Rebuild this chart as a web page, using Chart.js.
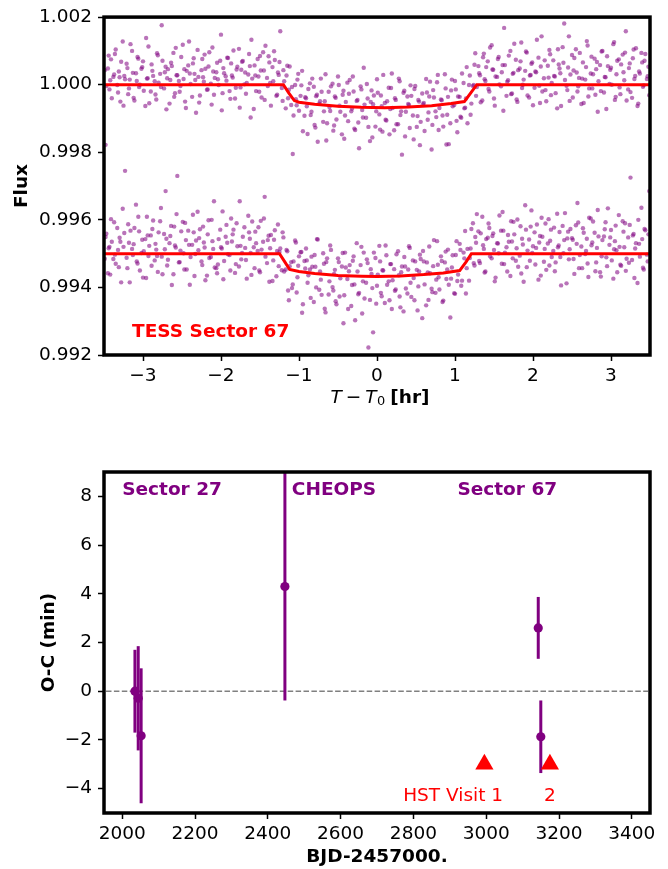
<!DOCTYPE html>
<html>
<head>
<meta charset="utf-8">
<script src="https://cdn.jsdelivr.net/npm/chart.js@4.4.1/dist/chart.umd.min.js"></script>
<style>
  html, body { margin: 0; padding: 0; background: #fff; }
  #wrap { position: relative; width: 668px; height: 869px; }
  canvas { position: absolute; left: 0; }
  #lcChart { top: 0; }
  #ocChart { top: 430px; }
</style>
</head>
<body>
<div id="wrap">
  <canvas id="lcChart" width="668" height="430"></canvas>
  <canvas id="ocChart" width="668" height="439"></canvas>
</div>
<script>
/* ── light curve data (hours from mid-transit) ───────────────── */
const phaseHours = [
  -3.49,-3.47,-3.44,-3.42,-3.40, -3.37,-3.35,-3.32,-3.30,-3.28, -3.25,-3.23,-3.20,-3.18,-3.16,
  -3.13,-3.11,-3.08,-3.06,-3.04, -3.01,-2.99,-2.96,-2.94,-2.92, -2.89,-2.87,-2.84,-2.82,-2.80,
  -2.77,-2.75,-2.72,-2.70,-2.68, -2.65,-2.63,-2.60,-2.58,-2.56, -2.53,-2.51,-2.48,-2.46,-2.44,
  -2.41,-2.39,-2.36,-2.34,-2.32, -2.29,-2.27,-2.24,-2.22,-2.20, -2.17,-2.15,-2.12,-2.10,-2.08,
  -2.05,-2.03,-2.00,-1.98,-1.96, -1.93,-1.91,-1.88,-1.86,-1.84, -1.81,-1.79,-1.76,-1.74,-1.72,
  -1.69,-1.67,-1.64,-1.62,-1.60, -1.57,-1.55,-1.52,-1.50,-1.48, -1.45,-1.43,-1.40,-1.38,-1.36,
  -1.33,-1.31,-1.28,-1.26,-1.24, -1.21,-1.19,-1.16,-1.14,-1.12, -1.09,-1.07,-1.04,-1.02,-1.00,
  -0.97,-0.95,-0.92,-0.90,-0.88, -0.85,-0.83,-0.80,-0.78,-0.76, -0.73,-0.71,-0.68,-0.66,-0.64,
  -0.61,-0.59,-0.56,-0.54,-0.52, -0.49,-0.47,-0.44,-0.42,-0.40, -0.37,-0.35,-0.32,-0.30,-0.28,
  -0.25,-0.23,-0.20,-0.18,-0.16, -0.13,-0.11,-0.08,-0.06,-0.04, -0.01,0.01,0.04,0.06,0.08,
  0.11,0.13,0.16,0.18,0.20, 0.23,0.25,0.28,0.30,0.32, 0.35,0.37,0.40,0.42,0.44,
  0.47,0.49,0.52,0.54,0.56, 0.59,0.61,0.64,0.66,0.68, 0.71,0.73,0.76,0.78,0.80,
  0.83,0.85,0.88,0.90,0.92, 0.95,0.97,1.00,1.02,1.04, 1.07,1.09,1.12,1.14,1.16,
  1.19,1.21,1.24,1.26,1.28, 1.31,1.33,1.36,1.38,1.40, 1.43,1.45,1.48,1.50,1.52,
  1.55,1.57,1.60,1.62,1.64, 1.67,1.69,1.72,1.74,1.76, 1.79,1.81,1.84,1.86,1.88,
  1.91,1.93,1.96,1.98,2.00, 2.03,2.05,2.08,2.10,2.12, 2.15,2.17,2.20,2.22,2.24,
  2.27,2.29,2.32,2.34,2.36, 2.39,2.41,2.44,2.46,2.48, 2.51,2.53,2.56,2.58,2.60,
  2.63,2.65,2.68,2.70,2.72, 2.75,2.77,2.80,2.82,2.84, 2.87,2.89,2.92,2.94,2.96,
  2.99,3.01,3.04,3.06,3.08, 3.11,3.13,3.16,3.18,3.20, 3.23,3.25,3.28,3.30,3.32,
  3.35,3.37,3.40,3.42,3.44, 3.47,3.49
];

// upper transit (offset +0.005)
const fluxUpper = [
  1.00043,0.99996,1.00086,1.00013,0.99960, 1.00030,1.00104,0.99977,1.00022,1.00068, 0.99938,1.00016,1.00049,0.99989,1.00120,
  1.00035,0.99953,1.00011,1.00077,1.00000, 1.00052,0.99982,1.00138,1.00019,0.99945, 1.00060,1.00026,0.99971,1.00093,1.00006,
  0.99993,1.00071,1.00037,0.99927,1.00046, 1.00014,1.00055,0.99964,1.00109,1.00028, 0.99979,1.00082,1.00017,0.99950,1.00041,
  1.00128,1.00002,1.00063,1.00032,0.99917, 1.00023,0.99968,1.00076,1.00009,1.00047, 0.99986,1.00096,0.99941,1.00039,1.00020,
  1.00065,0.99999,1.00148,0.99975,1.00034, 1.00012,1.00079,0.99958,1.00027,1.00101, 0.99991,1.00053,0.99932,1.00044,1.00070,
  1.00036,1.00005,1.00091,0.99903,1.00018, 1.00057,0.99981,1.00024,1.00085,0.99962, 1.00042,1.00115,0.99996,1.00066,0.99938,
  1.00010,1.00073,0.99970,1.00029,1.00158, 0.99952,1.00010,1.00027,0.99960,1.00054, 0.99993,0.99909,0.99957,1.00015,0.99923,
  0.99998,0.99862,0.99963,0.99936,0.99987, 0.99910,1.00018,0.99881,0.99966,0.99831, 0.99951,0.99979,0.99921,1.00031,0.99886,
  0.99934,0.99995,0.99864,0.99965,0.99897, 0.99999,0.99920,0.99970,0.99840,0.99949, 0.99892,1.00014,0.99929,0.99980,0.99866,
  0.99955,0.99812,0.99986,0.99903,0.99941, 1.00002,0.99875,0.99949,0.99844,0.99968, 0.99921,0.99976,0.99867,0.99936,1.00029,
  0.99896,0.99951,0.99853,0.99990,0.99931, 0.99960,0.99883,1.00018,0.99910,0.99793, 0.99982,0.99920,0.99943,0.99872,0.99967,
  0.99838,0.99996,0.99907,0.99950,0.99890, 0.99942,0.99863,0.99977,0.99918,1.00009, 0.99881,0.99962,0.99904,1.00029,0.99931,
  0.99954,0.99876,0.99989,0.99911,0.99824, 0.99983,0.99936,1.00011,0.99893,0.99965, 0.99905,1.00033,0.99930,0.99959,0.99886,
  1.00027,0.99944,0.99999,1.00093,0.99993, 1.00034,0.99948,1.00081,1.00016,1.00052, 0.99987,1.00110,1.00045,0.99959,1.00024,
  1.00076,1.00001,1.00037,0.99923,1.00058, 1.00009,1.00086,0.99972,1.00032,1.00121, 0.99956,1.00043,1.00069,0.99990,1.00015,
  1.00098,0.99968,1.00027,1.00062,0.99939, 1.00039,1.00133,0.99997,1.00054,0.99980, 1.00072,0.99951,1.00021,1.00090,1.00005,
  1.00026,0.99975,1.00105,1.00048,0.99937, 1.00065,1.00014,0.99984,1.00143,1.00030, 0.99962,1.00079,1.00036,0.99995,1.00094,
  1.00018,0.99946,1.00052,1.00116,0.99989, 1.00083,1.00031,0.99970,1.00067,1.00010, 0.99981,1.00100,1.00023,0.99928,1.00055,
  1.00044,1.00000,1.00126,0.99964,1.00071, 0.99992,1.00060,1.00037,1.00095,0.99953, 1.00049,0.99978,1.00078,1.00017,1.00108,
  0.99944,1.00033,1.00066,0.99998,1.00091, 1.00025,0.99969
];

// lower transit
const fluxLower = [
  0.99485,0.99559,0.99516,0.99438,0.99535, 0.99593,0.99470,0.99511,0.99547,0.99415, 0.99520,0.99745,0.99457,0.99532,0.99568,
  0.99496,0.99576,0.99477,0.99609,0.99450, 0.99541,0.99507,0.99428,0.99554,0.99523, 0.99464,0.99598,0.99529,0.99493,0.99563,
  0.99635,0.99439,0.99513,0.99544,0.99482, 0.99552,0.99407,0.99580,0.99518,0.99730, 0.99475,0.99566,0.99501,0.99591,0.99453,
  0.99526,0.99490,0.99615,0.99434,0.99539, 0.99510,0.99572,0.99466,0.99533,0.99421, 0.99557,0.99487,0.99600,0.99514,0.99459,
  0.99442,0.99543,0.99519,0.99625,0.99478, 0.99585,0.99498,0.99450,0.99536,0.99571, 0.99469,0.99522,0.99655,0.99483,0.99550,
  0.99517,0.99426,0.99563,0.99502,0.99595, 0.99457,0.99531,0.99578,0.99445,0.99512, 0.99604,0.99491,0.99540,0.99417,0.99555,
  0.99480,0.99569,0.99508,0.99463,0.99515, 0.99563,0.99447,0.99511,0.99391,0.99463, 0.99398,0.99477,0.99533,0.99430,0.99492,
  0.99505,0.99350,0.99456,0.99480,0.99436, 0.99369,0.99461,0.99496,0.99400,0.99542, 0.99447,0.99378,0.99470,0.99326,0.99486,
  0.99418,0.99511,0.99391,0.99452,0.99350, 0.99475,0.99427,0.99502,0.99377,0.99459, 0.99336,0.99466,0.99407,0.99492,0.99303,
  0.99447,0.99384,0.99520,0.99418,0.99367, 0.99483,0.99222,0.99454,0.99398,0.99503, 0.99352,0.99438,0.99477,0.99374,0.99450,
  0.99524,0.99408,0.99362,0.99469,0.99421, 0.99390,0.99498,0.99436,0.99341,0.99462, 0.99490,0.99397,0.99453,0.99517,0.99372,
  0.99428,0.99477,0.99332,0.99447,0.99484, 0.99508,0.99409,0.99474,0.99363,0.99442, 0.99386,0.99540,0.99423,0.99467,0.99394,
  0.99478,0.99361,0.99506,0.99453,0.99408, 0.99426,0.99495,0.99381,0.99537,0.99438, 0.99511,0.99420,0.99486,0.99382,0.99514,
  0.99487,0.99573,0.99472,0.99549,0.99617, 0.99478,0.99560,0.99525,0.99444,0.99543, 0.99589,0.99492,0.99552,0.99511,0.99429,
  0.99530,0.99613,0.99470,0.99568,0.99503, 0.99447,0.99535,0.99596,0.99486,0.99557, 0.99516,0.99461,0.99581,0.99544,0.99417,
  0.99571,0.99509,0.99479,0.99628,0.99522, 0.99468,0.99586,0.99533,0.99435,0.99550, 0.99514,0.99452,0.99602,0.99538,0.99490,
  0.99577,0.99474,0.99519,0.99564,0.99406, 0.99501,0.99620,0.99545,0.99483,0.99573, 0.99541,0.99440,0.99529,0.99592,0.99496,
  0.99457,0.99562,0.99508,0.99471,0.99606, 0.99525,0.99595,0.99448,0.99517,0.99551, 0.99432,0.99540,0.99572,0.99489,0.99634,
  0.99548,0.99480,0.99513,0.99583,0.99445, 0.99520,0.99464,0.99565,0.99590,0.99485, 0.99473,0.99725,0.99554,0.99428,0.99531,
  0.99600,0.99491,0.99543,0.99453,0.99569, 0.99477,0.99685
];

// second block of cadences
const phaseHours2 = [
  -3.48,-3.45,-3.43,-3.41,-3.38, -3.36,-3.33,-3.31,-3.29,-3.26, -3.24,-3.21,-3.19,-3.17,-3.14,
  -3.12,-3.09,-3.07,-3.05,-3.02, -3.00,-2.97,-2.95,-2.93,-2.90, -2.88,-2.85,-2.83,-2.81,-2.78,
  -2.76,-2.73,-2.71,-2.69,-2.66, -2.64,-2.61,-2.59,-2.57,-2.54, -2.52,-2.49,-2.47,-2.45,-2.42,
  -2.40,-2.37,-2.35,-2.33,-2.30, -2.28,-2.25,-2.23,-2.21,-2.18, -2.16,-2.13,-2.11,-2.09,-2.06,
  -2.04,-2.01,-1.99,-1.97,-1.94, -1.92,-1.89,-1.87,-1.85,-1.82, -1.80,-1.77,-1.75,-1.73,-1.70,
  -1.68,-1.65,-1.63,-1.61,-1.58, -1.56,-1.53,-1.51,-1.49,-1.46, -1.44,-1.41,-1.39,-1.37,-1.34,
  -1.32,-1.29,-1.27,-1.25,-1.22, -1.20,-1.17,-1.15,-1.13,-1.10, -1.08,-1.05,-1.03,-1.01,-0.98,
  -0.96,-0.93,-0.91,-0.89,-0.86, -0.84,-0.81,-0.79,-0.77,-0.74, -0.72,-0.69,-0.67,-0.65,-0.62,
  -0.60,-0.57,-0.55,-0.53,-0.50, -0.48,-0.45,-0.43,-0.41,-0.38, -0.36,-0.33,-0.31,-0.29,-0.26,
  -0.24,-0.21,-0.19,-0.17,-0.14, -0.12,-0.09,-0.07,-0.05,-0.02, 0.00,0.03,0.05,0.07,0.10,
  0.12,0.15,0.17,0.19,0.22, 0.24,0.27,0.29,0.31,0.34, 0.36,0.39,0.41,0.43,0.46,
  0.48,0.51,0.53,0.55,0.58, 0.60,0.63,0.65,0.67,0.70, 0.72,0.75,0.77,0.79,0.82,
  0.84,0.87,0.89,0.91,0.94, 0.96,0.99,1.01,1.03,1.06, 1.08,1.11,1.13,1.15,1.18,
  1.20,1.23,1.25,1.27,1.30, 1.32,1.35,1.37,1.39,1.42, 1.44,1.47,1.49,1.51,1.54,
  1.56,1.59,1.61,1.63,1.66, 1.68,1.71,1.73,1.75,1.78, 1.80,1.83,1.85,1.87,1.90,
  1.92,1.95,1.97,1.99,2.02, 2.04,2.07,2.09,2.11,2.14, 2.16,2.19,2.21,2.23,2.26,
  2.28,2.31,2.33,2.35,2.38, 2.40,2.43,2.45,2.47,2.50, 2.52,2.55,2.57,2.59,2.62,
  2.64,2.67,2.69,2.71,2.74, 2.76,2.79,2.81,2.83,2.86, 2.88,2.91,2.93,2.95,2.98,
  3.00,3.03,3.05,3.07,3.10, 3.12,3.15,3.17,3.19,3.22, 3.24,3.27,3.29,3.31,3.34,
  3.36,3.39,3.41,3.43,3.46, 3.48
];

const fluxUpper2 = [
  0.99822,1.00048,0.99986,1.00075,1.00023, 1.00091,0.99999,1.00039,0.99950,1.00128, 1.00026,1.00062,0.99972,1.00015,1.00100,
  0.99961,1.00034,1.00082,0.99993,1.00047, 1.00069,0.99937,1.00018,1.00113,0.99980, 1.00041,1.00010,0.99956,1.00087,1.00032,
  1.00176,0.99989,1.00053,1.00019,0.99944, 1.00065,1.00094,0.99975,1.00028,1.00011, 0.99996,1.00118,1.00046,0.99931,1.00057,
  1.00033,0.99964,1.00078,1.00014,1.00103, 0.99947,1.00043,1.00022,1.00089,0.99985, 1.00054,1.00003,1.00110,0.99970,1.00037,
  1.00016,1.00071,0.99924,1.00049,1.00025, 1.00080,0.99981,1.00063,1.00021,0.99959, 1.00045,1.00106,0.99992,1.00068,1.00001,
  0.99973,1.00030,1.00055,1.00133,0.99928, 1.00027,1.00076,0.99979,1.00042,1.00096, 0.99955,1.00020,1.00084,1.00005,1.00052,
  1.00099,0.99967,1.00036,1.00067,0.99990, 1.00043,0.99930,1.00056,0.99985,0.99940, 0.99795,0.99999,0.99939,1.00032,0.99967,
  1.00041,0.99908,0.99960,0.99854,1.00004, 0.99920,0.99994,0.99873,0.99970,0.99944, 1.00018,0.99890,0.99951,0.99835,0.99979,
  0.99922,1.00003,0.99879,0.99961,1.00024, 0.99938,0.99853,0.99982,0.99909,1.00006, 0.99973,0.99921,1.00024,0.99870,0.99952,
  0.99888,0.99995,0.99925,1.00050,0.99902, 0.99959,0.99833,0.99983,0.99942,0.99876, 1.00016,0.99912,0.99968,0.99861,0.99946,
  0.99894,0.99991,0.99928,1.00033,0.99865, 0.99955,0.99883,1.00010,0.99921,0.99976, 0.99847,0.99965,0.99940,0.99998,0.99909,
  0.99987,0.99875,0.99955,0.99821,0.99974, 0.99946,1.00017,0.99896,0.99965,0.99808, 0.99984,0.99921,1.00007,0.99866,0.99956,
  0.99909,1.00031,0.99823,0.99964,0.99886, 1.00015,0.99940,0.99986,0.99859,0.99964, 0.99902,1.00005,0.99932,1.00052,0.99999,
  0.99911,0.99996,1.00059,0.99967,1.00055, 1.00028,0.99953,1.00092,1.00011,1.00069, 0.99980,1.00117,1.00044,0.99938,1.00023,
  1.00082,0.99995,1.00058,1.00168,0.99967, 1.00013,1.00100,0.99974,1.00035,1.00074, 0.99949,1.00048,1.00125,1.00000,1.00041,
  1.00095,0.99962,1.00029,1.00066,0.99991, 1.00037,1.00080,0.99946,1.00143,1.00019, 0.99984,1.00056,1.00103,0.99969,1.00072,
  1.00024,0.99930,1.00060,1.00034,1.00111, 1.00181,0.99997,1.00051,0.99952,1.00088, 1.00042,1.00105,0.99980,1.00020,0.99943,
  1.00066,1.00015,1.00129,0.99965,1.00033, 0.99989,1.00077,1.00046,0.99920,1.00058, 1.00098,0.99977,1.00022,1.00084,1.00002,
  1.00050,1.00120,0.99955,1.00031,1.00075, 0.99972,1.00089,1.00013,1.00158,0.99986, 1.00063,0.99961,1.00104,1.00026,0.99937,
  1.00039,1.00094,0.99994,1.00071,1.00017, 1.00053
];

const fluxLower2 = [
  0.99549,0.99442,0.99520,0.99602,0.99484, 0.99497,0.99576,0.99460,0.99535,0.99633, 0.99561,0.99488,0.99587,0.99415,0.99514,
  0.99528,0.99645,0.99471,0.99566,0.99502, 0.99429,0.99543,0.99609,0.99493,0.99554, 0.99573,0.99480,0.99512,0.99446,0.99596,
  0.99491,0.99558,0.99685,0.99465,0.99531, 0.99582,0.99439,0.99524,0.99617,0.99474, 0.99509,0.99594,0.99453,0.99540,0.99568,
  0.99408,0.99526,0.99563,0.99499,0.99624, 0.99546,0.99477,0.99580,0.99518,0.99435, 0.99599,0.99490,0.99537,0.99655,0.99457,
  0.99468,0.99571,0.99515,0.99424,0.99550, 0.99532,0.99496,0.99604,0.99557,0.99443, 0.99590,0.99462,0.99523,0.99502,0.99578,
  0.99481,0.99612,0.99544,0.99437,0.99519, 0.99565,0.99508,0.99450,0.99597,0.99535, 0.99668,0.99472,0.99553,0.99516,0.99419,
  0.99541,0.99433,0.99586,0.99505,0.99451, 0.99548,0.99453,0.99507,0.99362,0.99475, 0.99409,0.99539,0.99385,0.99464,0.99504,
  0.99325,0.99478,0.99515,0.99414,0.99453, 0.99491,0.99357,0.99461,0.99543,0.99393, 0.99423,0.99501,0.99337,0.99475,0.99379,
  0.99524,0.99401,0.99440,0.99359,0.99486, 0.99373,0.99462,0.99294,0.99503,0.99425, 0.99448,0.99345,0.99479,0.99409,0.99531,
  0.99380,0.99466,0.99323,0.99503,0.99414, 0.99472,0.99363,0.99440,0.99267,0.99487, 0.99405,0.99523,0.99384,0.99451,0.99354,
  0.99495,0.99418,0.99469,0.99336,0.99454, 0.99394,0.99507,0.99373,0.99445,0.99329, 0.99462,0.99382,0.99522,0.99414,0.99480,
  0.99362,0.99452,0.99403,0.99497,0.99309, 0.99477,0.99347,0.99444,0.99521,0.99396, 0.99463,0.99384,0.99537,0.99430,0.99492,
  0.99357,0.99474,0.99425,0.99512,0.99311, 0.99459,0.99383,0.99496,0.99419,0.99529, 0.99405,0.99503,0.99567,0.99457,0.99420,
  0.99515,0.99590,0.99465,0.99532,0.99566, 0.99472,0.99609,0.99514,0.99447,0.99547, 0.99576,0.99486,0.99560,0.99418,0.99531,
  0.99501,0.99568,0.99623,0.99469,0.99519, 0.99555,0.99434,0.99536,0.99594,0.99479, 0.99601,0.99494,0.99441,0.99527,0.99643,
  0.99460,0.99542,0.99580,0.99502,0.99563, 0.99517,0.99423,0.99552,0.99606,0.99476, 0.99589,0.99530,0.99465,0.99571,0.99508,
  0.99448,0.99618,0.99524,0.99490,0.99582, 0.99540,0.99412,0.99565,0.99513,0.99546, 0.99484,0.99584,0.99650,0.99457,0.99521,
  0.99575,0.99499,0.99544,0.99431,0.99604, 0.99533,0.99562,0.99474,0.99629,0.99445, 0.99492,0.99551,0.99593,0.99463,0.99526,
  0.99570,0.99426,0.99537,0.99510,0.99614, 0.99467,0.99596,0.99519,0.99449,0.99548, 0.99585,0.99481,0.99558,0.99515,0.99413,
  0.99529,0.99636,0.99458,0.99573,0.99497, 0.99557
];

// transit models
const modelTimeUpper = [-3.5, -1.2, -1.13, -1.06, -1.0, -0.8, -0.5, -0.2, 0.1, 0.4, 0.7, 0.95, 1.12, 1.2, 1.28, 3.5];
const modelFluxUpper = [1.0, 1.0, 0.99975, 0.99953, 0.99948, 0.99942, 0.99936, 0.99933, 0.99932, 0.99934, 0.99938, 0.99944, 0.9995, 0.99975, 1.0, 1.0];
const modelTimeLower = [-3.5, -1.25, -1.18, -1.12, -1.0, -0.8, -0.5, -0.2, 0.0, 0.3, 0.6, 0.85, 1.06, 1.14, 1.21, 3.5];
const modelFluxLower = [0.995, 0.995, 0.99475, 0.99453, 0.99447, 0.99441, 0.99435, 0.99433, 0.99432, 0.99434, 0.99438, 0.99443, 0.9945, 0.99475, 0.995, 0.995];

const phaseTicks = [-3, -2, -1, 0, 1, 2, 3];
const fluxTicks  = [0.992, 0.994, 0.996, 0.998, 1.000, 1.002];

/* ── O-C data ─────────────────────────────────────────────── */
const ocTime  = [2035, 2044, 2052, 2447, 3143, 3150];
const ocValue = [0.0, -0.29, -1.83, 4.3, 2.6, -1.87];
const ocError = [1.7, 2.14, 2.77, 4.68, 1.27, 1.49];
const hstTime  = [2995, 3175];
const hstValue = [-3, -3];

const bjdTicks = [2000, 2200, 2400, 2600, 2800, 3000, 3200, 3400];
const ocTicks  = [-4, -2, 0, 2, 4, 6, 8];

/* ── shared style ─────────────────────────────────────────── */
const FONT = 'DejaVu Sans';
const FS = 18.5;
const PURPLE = '#800080';
const DOT = 'rgba(128,0,128,0.55)';
const minus = v => (v < 0 ? '\u2212' + Math.abs(v) : String(v));

Chart.defaults.font.family = FONT;
Chart.defaults.color = '#000';

const tickGrid = {
  drawOnChartArea: false, drawTicks: true, tickLength: 6,
  tickWidth: 1.5, tickColor: '#000'
};

// thick black frame around plot area
const framePlugin = {
  id: 'frame',
  afterDraw(chart) {
    const { ctx, chartArea: a } = chart;
    ctx.save();
    ctx.strokeStyle = '#000';
    ctx.lineWidth = 3.5;
    ctx.strokeRect(a.left, a.top, a.right - a.left, a.bottom - a.top);
    ctx.restore();
  }
};

// text notes anchored in data coordinates
const notesPlugin = {
  id: 'notes',
  afterDatasetsDraw(chart, args, opts) {
    const { ctx, scales } = chart;
    ctx.save();
    ctx.textBaseline = 'middle';
    (opts.items || []).forEach(n => {
      ctx.font = `${n.bold ? 'bold ' : ''}${FS}px "${FONT}"`;
      ctx.fillStyle = n.color;
      ctx.textAlign = n.align || 'left';
      ctx.fillText(n.text, scales.x.getPixelForValue(n.x), scales.y.getPixelForValue(n.y));
    });
    ctx.restore();
  }
};

/* ── top panel: light curves ──────────────────────────────── */
const pts = (xs, ys) => xs.map((x, i) => ({ x, y: ys[i] }));

// mixed-font x title: T − T0 [hr]
const phaseTitle = {
  id: 'phaseTitle',
  afterDraw(chart) {
    const { ctx, chartArea: a } = chart;
    const parts = [
      { t: 'T', f: `italic ${FS}px "${FONT}"`, dy: 0, gap: 4 },
      { t: '\u2212', f: `${FS}px "${FONT}"`, dy: 0, gap: 4 },
      { t: 'T', f: `italic ${FS}px "${FONT}"`, dy: 0, gap: 0.5 },
      { t: '0', f: `${FS * 0.7}px "${FONT}"`, dy: 4, gap: 5 },
      { t: '[hr]', f: `bold ${FS}px "${FONT}"`, dy: 0, gap: 0 }
    ];
    ctx.save();
    let total = 0;
    parts.forEach(p => { ctx.font = p.f; p.w = ctx.measureText(p.t).width; total += p.w + p.gap; });
    let x = (a.left + a.right) / 2 + 3 - total / 2;
    ctx.textBaseline = 'middle';
    ctx.textAlign = 'left';
    ctx.fillStyle = '#000';
    parts.forEach(p => { ctx.font = p.f; ctx.fillText(p.t, x, 398 + p.dy); x += p.w + p.gap; });
    ctx.restore();
  }
};

const dots = data => ({ data, pointRadius: 2.2, borderWidth: 0, backgroundColor: DOT, order: 1 });

new Chart(document.getElementById('lcChart'), {
  type: 'scatter',
  data: {
    datasets: [
      { data: pts(modelTimeUpper, modelFluxUpper), showLine: true, borderColor: '#ff0000',
        borderWidth: 3, pointRadius: 0, order: 0 },
      { data: pts(modelTimeLower, modelFluxLower), showLine: true, borderColor: '#ff0000',
        borderWidth: 3, pointRadius: 0, order: 0 },
      dots(pts(phaseHours, fluxUpper)),
      dots(pts(phaseHours2, fluxUpper2)),
      dots(pts(phaseHours, fluxLower)),
      dots(pts(phaseHours2, fluxLower2))
    ]
  },
  options: {
    responsive: false, animation: false, devicePixelRatio: 1,
    layout: { padding: { left: 0, right: 18, top: 14, bottom: 0 } },
    plugins: {
      legend: { display: false }, tooltip: { enabled: false },
      notes: { items: [{ text: 'TESS Sector 67', x: -3.14, y: 0.99267, color: '#ff0000', bold: true }] }
    },
    scales: {
      x: {
        min: -3.5, max: 3.5,
        afterBuildTicks: s => { s.ticks = phaseTicks.map(v => ({ value: v })); },
        afterFit: s => { s.height = 75; },
        ticks: { font: { size: FS }, padding: 4, maxRotation: 0, callback: v => minus(v) },
        grid: tickGrid, border: { display: false }
      },
      y: {
        min: 0.992, max: 1.002,
        afterBuildTicks: s => { s.ticks = fluxTicks.map(v => ({ value: v })); },
        afterFit: s => { s.width = 104; },
        ticks: { font: { size: FS }, padding: 6, callback: v => v.toFixed(3) },
        grid: tickGrid, border: { display: false },
        title: { display: true, text: 'Flux', font: { size: FS, weight: 'bold' }, padding: { top: 11.4, bottom: 0 } }
      }
    }
  },
  plugins: [framePlugin, notesPlugin, phaseTitle]
});

/* ── bottom panel: O-C diagram ────────────────────────────── */
const zeroLine = {
  id: 'zeroLine',
  beforeDatasetsDraw(chart) {
    const { ctx, chartArea: a, scales } = chart;
    const y = scales.y.getPixelForValue(0);
    ctx.save();
    ctx.strokeStyle = '#808080';
    ctx.lineWidth = 1.5;
    ctx.setLineDash([5.5, 2.4]);
    ctx.beginPath();
    ctx.moveTo(a.left + 2, y);
    ctx.lineTo(a.right - 2, y);
    ctx.stroke();
    ctx.restore();
  }
};

const errorBars = ocTime.map((t, i) => ({
  data: [{ x: t, y: ocValue[i] - ocError[i] }, { x: t, y: ocValue[i] + ocError[i] }],
  showLine: true, borderColor: PURPLE, borderWidth: 3, pointRadius: 0, order: 2
}));

new Chart(document.getElementById('ocChart'), {
  type: 'scatter',
  data: {
    datasets: [
      ...errorBars,
      { data: pts(ocTime, ocValue), pointRadius: 4.6, borderWidth: 0, backgroundColor: PURPLE, order: 1 },
      { data: pts(hstTime, hstValue), pointStyle: 'triangle', pointRadius: 10.5, borderWidth: 0,
        backgroundColor: '#ff0000', order: 0 }
    ]
  },
  options: {
    responsive: false, animation: false, devicePixelRatio: 1,
    layout: { padding: { left: 0, right: 18, top: 42, bottom: 0 } },
    plugins: {
      legend: { display: false }, tooltip: { enabled: false },
      notes: { items: [
        { text: 'Sector 27',   x: 2000, y: 8.25, color: PURPLE, bold: true },
        { text: 'CHEOPS',      x: 2466, y: 8.25, color: PURPLE, bold: true },
        { text: 'Sector 67',   x: 2921, y: 8.25, color: PURPLE, bold: true },
        { text: 'HST Visit 1', x: 2772, y: -4.3, color: '#ff0000' },
        { text: '2',           x: 3175, y: -4.3, color: '#ff0000', align: 'center' }
      ] }
    },
    scales: {
      x: {
        min: 1950, max: 3450,
        afterBuildTicks: s => { s.ticks = bjdTicks.map(v => ({ value: v })); },
        afterFit: s => { s.height = 56; },
        ticks: { font: { size: FS }, padding: 4, maxRotation: 0, callback: v => String(v) },
        grid: tickGrid, border: { display: false },
        title: { display: true, text: 'BJD-2457000.', font: { size: FS, weight: 'bold' }, padding: { top: 0, bottom: 1 } }
      },
      y: {
        min: -5, max: 9,
        afterBuildTicks: s => { s.ticks = ocTicks.map(v => ({ value: v })); },
        afterFit: s => { s.width = 104; },
        ticks: { font: { size: FS }, padding: 6, callback: v => minus(v) },
        grid: tickGrid, border: { display: false },
        title: { display: true, text: 'O-C (min)', font: { size: FS, weight: 'bold' }, padding: { top: 38, bottom: 0 } }
      }
    }
  },
  plugins: [framePlugin, notesPlugin, zeroLine]
});
</script>
</body>
</html>
